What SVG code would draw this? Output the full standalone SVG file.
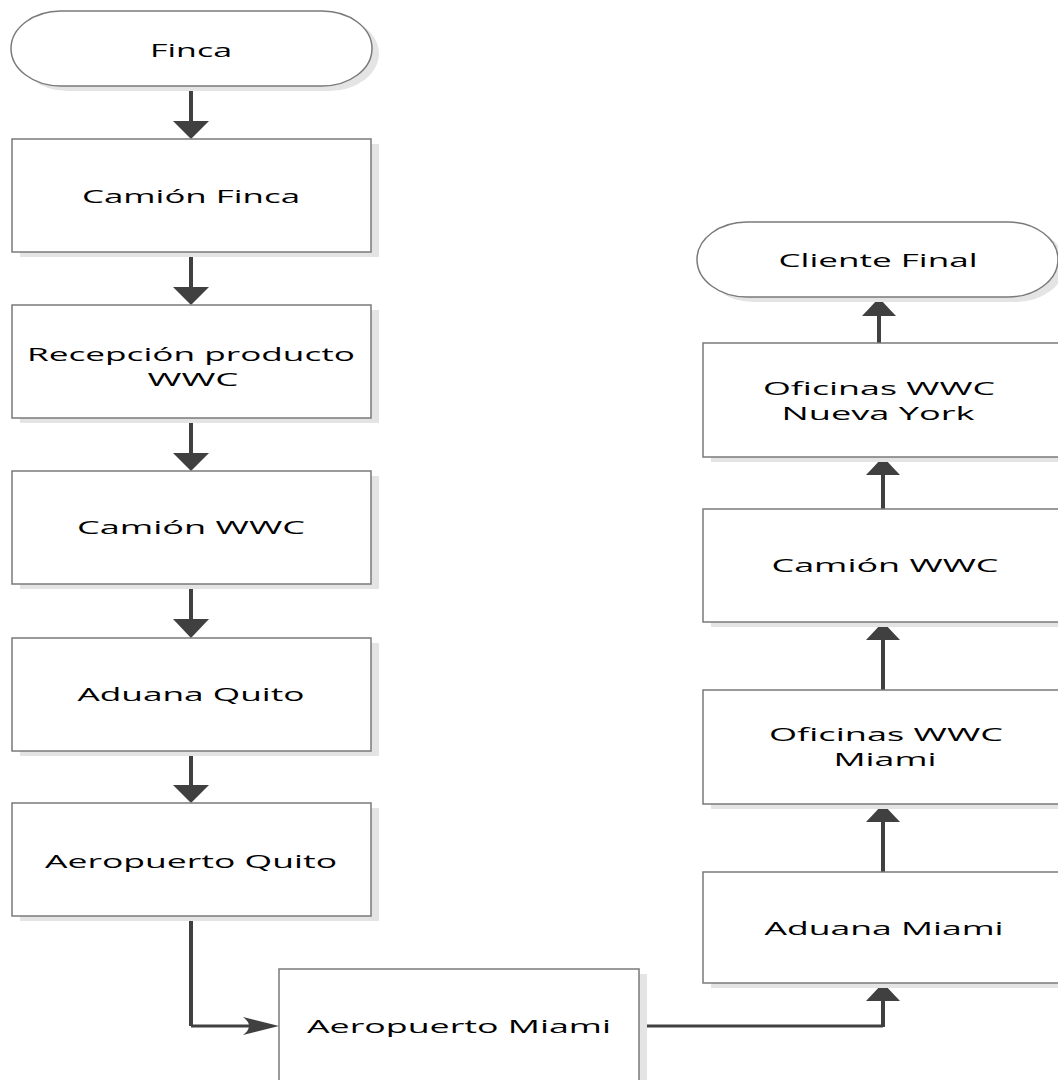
<svg xmlns="http://www.w3.org/2000/svg" width="1058" height="1080" viewBox="0 0 1058 1080">
<style>
.box{fill:#ffffff;stroke:#7a7a7a;stroke-width:1.5}
.sh{fill:#e4e4e4}
.t{font-family:"Open Sans","Noto Sans",sans-serif;font-size:19px;fill:#000000;text-anchor:middle}
.v{stroke:#404040;stroke-width:4;fill:none}
.h{stroke:#404040;stroke-width:3;fill:none}
.ah{fill:#404040}
</style>
<rect width="1058" height="1080" fill="#ffffff"/>
<g id="connectors">
<line class="v" x1="191" y1="86" x2="191" y2="124"/>
<polygon class="ah" points="173,121 209,121 191,139"/>
<line class="v" x1="191" y1="252" x2="191" y2="290"/>
<polygon class="ah" points="173,287 209,287 191,305"/>
<line class="v" x1="191" y1="418" x2="191" y2="456"/>
<polygon class="ah" points="173,453 209,453 191,471"/>
<line class="v" x1="191" y1="584" x2="191" y2="622"/>
<polygon class="ah" points="173,619 209,619 191,638"/>
<line class="v" x1="191" y1="751" x2="191" y2="788"/>
<polygon class="ah" points="173,785 209,785 191,803"/>
<path class="v" d="M191,916 V1026"/>
<path class="h" d="M191,1026 H262"/>
<path class="ah" d="M279,1026 L243,1017 Q255,1026 243,1035 Z"/>
<path class="h" d="M639,1026 H883"/>
<path class="v" d="M883,1027 V998"/>
<polygon class="ah" points="866,1001 900,1001 883,983"/>
<line class="v" x1="883" y1="872" x2="883" y2="818"/>
<polygon class="ah" points="866,822 900,822 883,804"/>
<line class="v" x1="883" y1="690" x2="883" y2="637"/>
<polygon class="ah" points="866,640 900,640 883,622"/>
<line class="v" x1="883" y1="509" x2="883" y2="471"/>
<polygon class="ah" points="866,475 900,475 883,457"/>
<line class="v" x1="879" y1="343" x2="879" y2="312"/>
<polygon class="ah" points="862,316 896,316 879,298"/>
</g>
<g id="finca">
<path class="sh" d="M68,16 H329 A50,37.5 0 0 1 329,91 H68 A50,37.5 0 0 1 68,16 Z"/>
<path class="box" d="M61,11 H322 A50,37.5 0 0 1 322,86 H61 A50,37.5 0 0 1 61,11 Z"/>
<text class="t" x="191" y="57" textLength="82" lengthAdjust="spacingAndGlyphs">Finca</text>
</g>
<g id="camion-finca">
<rect class="sh" x="20" y="144" width="359" height="113"/>
<rect class="box" x="12" y="139" width="359" height="113"/>
<text class="t" x="191" y="203" textLength="218" lengthAdjust="spacingAndGlyphs">Camión Finca</text>
</g>
<g id="recepcion">
<rect class="sh" x="20" y="310" width="359" height="113"/>
<rect class="box" x="12" y="305" width="359" height="113"/>
<text class="t" x="191" y="361" textLength="328" lengthAdjust="spacingAndGlyphs">Recepción producto</text>
<text class="t" x="193" y="386" textLength="91" lengthAdjust="spacingAndGlyphs">WWC</text>
</g>
<g id="camion-wwc-1">
<rect class="sh" x="20" y="476" width="359" height="113"/>
<rect class="box" x="12" y="471" width="359" height="113"/>
<text class="t" x="191" y="534" textLength="228" lengthAdjust="spacingAndGlyphs">Camión WWC</text>
</g>
<g id="aduana-quito">
<rect class="sh" x="20" y="643" width="359" height="113"/>
<rect class="box" x="12" y="638" width="359" height="113"/>
<text class="t" x="191" y="701" textLength="227" lengthAdjust="spacingAndGlyphs">Aduana Quito</text>
</g>
<g id="aeropuerto-quito">
<rect class="sh" x="20" y="808" width="359" height="113"/>
<rect class="box" x="12" y="803" width="359" height="113"/>
<text class="t" x="191" y="868" textLength="292" lengthAdjust="spacingAndGlyphs">Aeropuerto Quito</text>
</g>
<g id="aeropuerto-miami">
<rect class="sh" x="287" y="974" width="360" height="120"/>
<rect class="box" x="279" y="969" width="360" height="120"/>
<text class="t" x="459" y="1033" textLength="304" lengthAdjust="spacingAndGlyphs">Aeropuerto Miami</text>
</g>
<g id="aduana-miami">
<rect class="sh" x="711" y="877" width="360" height="111"/>
<rect class="box" x="703" y="872" width="360" height="111"/>
<text class="t" x="884" y="935" textLength="239" lengthAdjust="spacingAndGlyphs">Aduana Miami</text>
</g>
<g id="oficinas-miami">
<rect class="sh" x="711" y="695" width="360" height="114"/>
<rect class="box" x="703" y="690" width="360" height="114"/>
<text class="t" x="886" y="741" textLength="234" lengthAdjust="spacingAndGlyphs">Oficinas WWC</text>
<text class="t" x="885" y="766" textLength="103" lengthAdjust="spacingAndGlyphs">Miami</text>
</g>
<g id="camion-wwc-2">
<rect class="sh" x="711" y="514" width="360" height="113"/>
<rect class="box" x="703" y="509" width="360" height="113"/>
<text class="t" x="885" y="572" textLength="227" lengthAdjust="spacingAndGlyphs">Camión WWC</text>
</g>
<g id="oficinas-ny">
<rect class="sh" x="711" y="348" width="360" height="114"/>
<rect class="box" x="703" y="343" width="360" height="114"/>
<text class="t" x="879" y="395" textLength="232" lengthAdjust="spacingAndGlyphs">Oficinas WWC</text>
<text class="t" x="878" y="420" textLength="193" lengthAdjust="spacingAndGlyphs">Nueva York</text>
</g>
<g id="cliente-final">
<path class="sh" d="M754,227 H1015 A50,37.5 0 0 1 1015,302 H754 A50,37.5 0 0 1 754,227 Z"/>
<path class="box" d="M747,222 H1008 A50,37.5 0 0 1 1008,297 H747 A50,37.5 0 0 1 747,222 Z"/>
<text class="t" x="878" y="267" textLength="199" lengthAdjust="spacingAndGlyphs">Cliente Final</text>
</g>
</svg>
